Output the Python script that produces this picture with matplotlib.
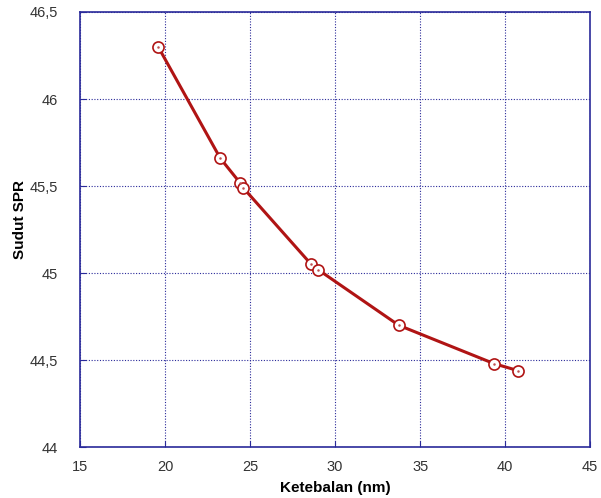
import matplotlib
matplotlib.use("Agg")
import matplotlib.pyplot as plt
from matplotlib.ticker import FuncFormatter

thickness = [19.6, 23.25, 24.4, 24.6, 28.6, 29.0, 33.75, 39.35, 40.75]
spr_angle = [46.30, 45.66, 45.52, 45.49, 45.05, 45.02, 44.70, 44.48, 44.44]
x_ticks = [15, 20, 25, 30, 35, 40, 45]
y_ticks = [44, 44.5, 45, 45.5, 46, 46.5]

plt.rcParams['font.family'] = ['Liberation Sans', 'DejaVu Sans']
fig = plt.figure(figsize=(6.01, 4.98), dpi=100)
ax = fig.add_axes([0.133, 0.102, 0.849, 0.874])

navy = '#2a2a9a'
ax.plot(thickness, spr_angle, color='#b01414', lw=2.2, marker='o', ms=8,
        mfc='white', mec='#b01414', mew=1.2, zorder=3)
ax.plot(thickness, spr_angle, ls='none', marker='o', ms=0.8, color='#c05050', zorder=4)

ax.set_xlim(15, 45)
ax.set_ylim(44, 46.5)
ax.set_xticks(x_ticks)
ax.set_yticks(y_ticks)
fmt = lambda v, p: ('%g' % v).replace('.', ',')
ax.yaxis.set_major_formatter(FuncFormatter(fmt))
ax.xaxis.set_major_formatter(FuncFormatter(fmt))
ax.grid(True, color=navy, ls=(0, (1, 1.5)), lw=0.8)
for s in ax.spines.values():
    s.set_color(navy)
    s.set_linewidth(1.2)
ax.tick_params(direction='in', length=4, color=navy, labelsize=10.5,
               labelcolor='#333333')
ax.tick_params(axis='y', pad=16)
ax.tick_params(axis='x', pad=9)
ax.set_xlabel('Ketebalan (nm)', fontsize=11, fontweight='bold', labelpad=5)
ax.set_ylabel('Sudut SPR', fontsize=11, fontweight='bold')
ax.yaxis.set_label_coords(-0.104, 0.524)

fig.savefig('out.png', dpi=100)
